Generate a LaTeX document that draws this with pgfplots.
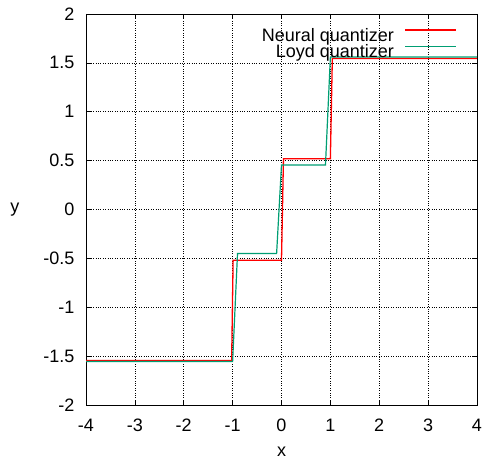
\documentclass[border=0pt]{standalone}
\usepackage{fontspec}
\setmainfont{Liberation Sans}
\usepackage{pgfplots}
\pgfplotsset{compat=1.18}
\definecolor{nred}{RGB}{255,0,0}
\definecolor{lgreen}{RGB}{0,158,115}
\begin{document}
\begin{tikzpicture}
\useasboundingbox (-86pt,-55pt) rectangle (400pt,405pt);
\begin{axis}[
 name=ax, at={(0,0)}, anchor=south west,
 scale only axis, width=391pt, height=391pt,
 xmin=-4, xmax=4, ymin=-2, ymax=2,
 xtick={-4,-3,-2,-1,0,1,2,3,4}, xticklabels={-4,-3,-2,-1,0,1,2,3,4},
 ytick={-2,-1.5,-1,-0.5,0,0.5,1,1.5,2}, yticklabels={-2,-1.5,-1,-0.5,0,0.5,1,1.5,2},
 tick align=inside, major tick length=5pt,
 tick style={black, line width=0.6pt},
 grid=major, major grid style={black, dotted, line width=0.6pt},
 axis line style={black, line width=0.8pt},
 font=\fontsize{18}{20}\selectfont,
 xticklabel style={anchor=center, inner sep=0pt, yshift=-20pt},
 yticklabel style={anchor=east, inner sep=0pt, xshift=-11.5pt},
 xlabel={x}, ylabel={y},
 xlabel style={at={(axis description cs:0.5,-0.120)}, anchor=center},
 ylabel style={at={(axis description cs:-0.1816,0.5)}, anchor=center, rotate=-90},
 legend plot pos=right,
 legend cell align=right,
 legend style={at={(axis description cs:0.949,0.967)}, anchor=north east, draw=none, fill=none,
   font=\fontsize{18}{20}\selectfont, inner sep=0pt, row sep=0pt,
   nodes={inner sep=1pt}},
]
\addlegendimage{legend image code/.code={\path (0pt,0pt); \draw[nred, line width=1.3pt] (10pt,5.5pt) -- (61pt,5.5pt);}}
\addlegendentry{Neural quantizer}
\addlegendimage{legend image code/.code={\path (0pt,0pt); \draw[lgreen, line width=1.3pt] (10pt,5.5pt) -- (61pt,5.5pt);}}
\addlegendentry{Loyd quantizer}
\addplot[nred, line width=1.3pt, forget plot] coordinates {
 (-4,-1.545) (-1.02,-1.545) (-0.99,-0.52) (0.0,-0.52) (0.04,0.52) (1.0,0.52) (1.04,1.545) (4,1.545)};
\addplot[lgreen, line width=1.2pt, forget plot] coordinates {
 (-4,-1.555) (-1.0,-1.555) (-0.9,-0.45) (-0.1,-0.45) (0.0,0.455) (0.9,0.455) (1.0,1.56) (4,1.56)};
\end{axis}
\end{tikzpicture}
\end{document}
